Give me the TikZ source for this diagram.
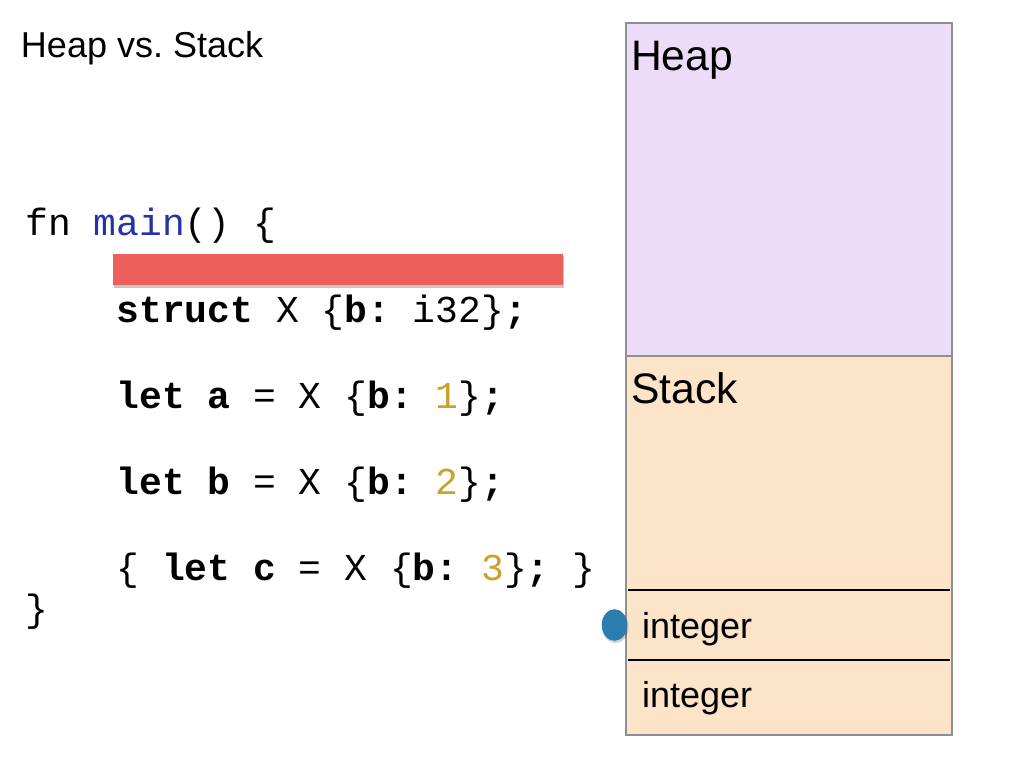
\documentclass[tikz,border=0pt]{standalone}
\usepackage{fontspec}
\setmainfont{Liberation Sans}
\setmonofont{Liberation Mono}
\definecolor{heapfill}{HTML}{ECDCF8}
\definecolor{stackfill}{HTML}{FCE4C9}
\definecolor{boxgray}{HTML}{8E8E93}
\definecolor{barred}{HTML}{EC5F5A}
\definecolor{dotblue}{HTML}{2E7DB1}
\definecolor{kwblue}{HTML}{2433A6}
\definecolor{numgold}{HTML}{C9A227}
\begin{document}
\frenchspacing
\begin{tikzpicture}[x=0.75pt,y=-0.75pt,
  txt/.style={inner sep=0pt, outer sep=0pt, anchor=base west},
  title/.style={txt, font=\fontsize{27}{32}\selectfont},
  region/.style={txt, font=\fontsize{32}{38}\selectfont},
  slot/.style={txt, font=\fontsize{27}{32}\selectfont},
  code/.style={txt, font=\fontsize{28.5}{34}\selectfont\ttfamily},
  panel/.style={draw=boxgray, line width=1.5pt},
  sep/.style={draw=black, line width=1.4pt}]
\fill[white] (0,0) rectangle (1024,768);
\useasboundingbox (0,0) rectangle (1024,768);

% title
\node[title] (title) at (21,57) {Heap vs. Stack};

% memory panel
\fill[heapfill] (626,23) rectangle (952,356);
\fill[stackfill] (626,356) rectangle (952,735);
\draw[panel] (626,23) rectangle (952,735);
\draw[panel] (626,356) -- (952,356);
\coordinate (s1l) at (628,590); \coordinate (s1r) at (950,590);
\coordinate (s2l) at (628,660); \coordinate (s2r) at (950,660);
\draw[sep] (s1l) -- (s1r);
\draw[sep] (s2l) -- (s2r);
\node[region] (heap) at (631,70) {Heap};
\node[region] (stack) at (631,403) {Stack};
\node[slot] (int1) at (642,638) {integer};
\node[slot] (int2) at (642,707) {integer};

% stack pointer dot
\fill[black, opacity=0.18] (615.5,627) ellipse [x radius=9.8pt, y radius=12pt];
\fill[dotblue] (614.5,625) ellipse [x radius=9.6pt, y radius=11.85pt];

% highlight bar
\fill[black, opacity=0.22] (114,256) rectangle (564,288);
\fill[barred] (113,254) rectangle (563,285);

% code
\node[code] (l0) at (25.2,235) {fn \textcolor{kwblue}{main}() \{};
\node[code] (l1) at (116.4,322) {\textbf{struct} X \{\textbf{b:} i32\}\textbf{;}};
\node[code] (l2) at (116.4,408) {\textbf{let a} = X \{\textbf{b:} \textcolor{numgold}{1}\}\textbf{;}};
\node[code] (l3) at (116.4,494) {\textbf{let b} = X \{\textbf{b:} \textcolor{numgold}{2}\}\textbf{;}};
\node[code] (l4) at (116.4,580) {\{ \textbf{let c} = X \{\textbf{b:} \textcolor{numgold}{3}\}\textbf{;} \}};
\node[code] (l5) at (25.2,621) {\}};
\end{tikzpicture}
\end{document}
